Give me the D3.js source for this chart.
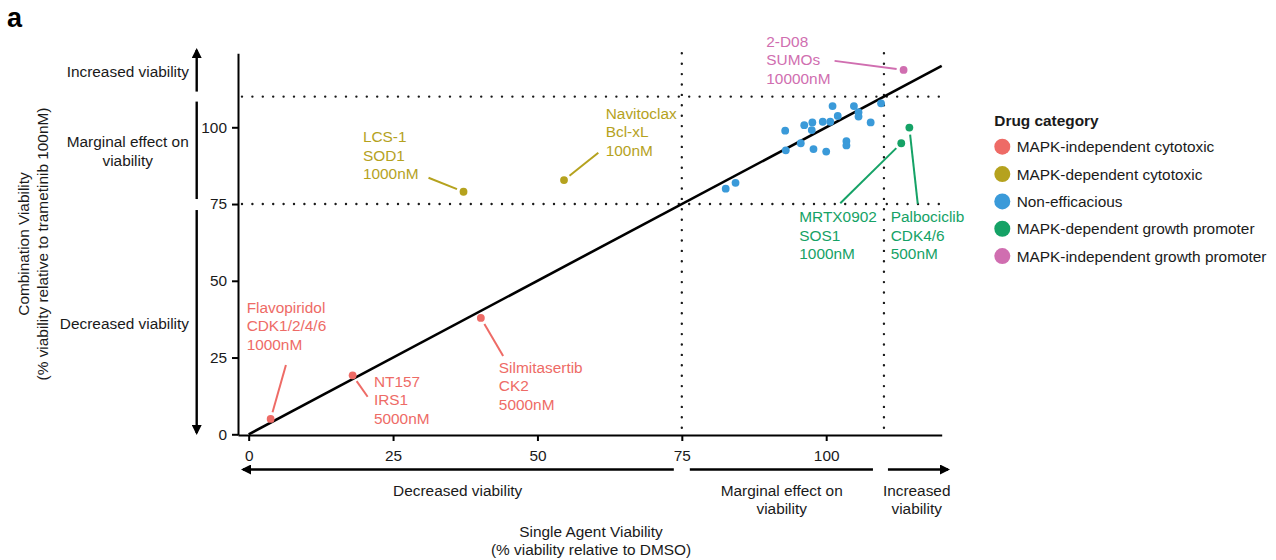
<!DOCTYPE html>
<html><head><meta charset="utf-8">
<script src="https://cdn.jsdelivr.net/npm/d3@7"></script>
<style>
html,body{margin:0;padding:0;background:#fff;}
svg text{font-family:"Liberation Sans",Arial,sans-serif;}
</style></head>
<body><svg id="c" width="1276" height="560"></svg>
<script>
// ---- data ----
const categories = ["MAPK-independent cytotoxic","MAPK-dependent cytotoxic","Non-efficacious","MAPK-dependent growth promoter","MAPK-independent growth promoter"];
const categoryColors = ["#EE6B66","#B5A21E","#3A9AD9","#15A266","#D06EB0"];

// labelled drugs
const drugNames   = ["Flavopiridol","NT157","Silmitasertib","LCS-1","Navitoclax","2-D08","MRTX0902","Palbociclib"];
const drugTargets = ["CDK1/2/4/6","IRS1","CK2","SOD1","Bcl-xL","SUMOs","SOS1","CDK4/6"];
const drugDoses   = ["1000nM","5000nM","5000nM","1000nM","100nM","10000nM","1000nM","500nM"];
const drugCategory= [0,0,0,1,1,4,3,3];
const drugSingle  = [3.8,18.0,40.2,37.2,54.6,113.4,113.0,114.4];
const drugCombo   = [5.0,19.2,37.9,79.0,82.8,118.7,94.8,99.9];

// non-efficacious drugs (unlabelled)
const nonEffSingle = [101.1,104.8,109.5,105.6,105.6,102.0,99.4,100.7,97.6,96.2,97.5,107.7,92.9,95.6,103.5,103.5,93.0,97.8,100.0,82.6,84.3];
const nonEffCombo  = [106.9,106.9,107.8,104.9,103.5,103.7,101.8,101.8,101.6,100.7,99.1,101.6,98.9,94.8,95.5,94.1,92.5,92.9,92.1,80.0,81.9];

const xTicks = [0,25,50,75,100];
const yTicks = [0,25,50,75,100];
const thresholds = [75,110];

// ---- layout (label placement offsets in px, like ggrepel) ----
const labelLayout = [
  [-24,-111.7, 15.3,-54],
  [21.3,5.7, 15,21.4],
  [18,49.3, 22.3,38],
  [-100.6,-55, -35,-14],
  [41.7,-66.7, 34.3,-27.3],
  [-137.3,-28.5, -69,-9],
  [-102,73.4, -61,60],
  [-18.6,89, 8.4,76.3]
];

const svg = d3.select("#c");
const FS = 15.4;
const x = d3.scaleLinear().domain([-1.85,120]).range([238,941.7]);
const y = d3.scaleLinear().domain([-0.23,124.1]).range([435,53.3]);
const ink = "#1a1a1a";

svg.append("text").attr("x",7).attr("y",27).attr("font-size",27).attr("font-weight","bold").attr("fill","#000").text("a");

// dotted threshold lines
const dot = g => g.attr("stroke",ink).attr("stroke-width",2.4).attr("stroke-linecap","round").attr("stroke-dasharray","0,10.4").attr("fill","none");
thresholds.forEach(t=>{
  svg.append("line").attr("x1",x(-1.85)+4).attr("x2",x(120)).attr("y1",y(t)).attr("y2",y(t)).call(dot);
  svg.append("line").attr("x1",x(t)).attr("x2",x(t)).attr("y1",y(124.1)).attr("y2",y(-0.23)-4).call(dot);
});

// identity line
svg.append("line").attr("x1",x(0)).attr("y1",y(0)).attr("x2",x(120)).attr("y2",y(120))
  .attr("stroke","#000").attr("stroke-width",2.6);

// axes
const xa = svg.append("g").attr("transform","translate(0,435)")
  .call(d3.axisBottom(x).tickValues(xTicks).tickSize(6).tickPadding(9).tickSizeOuter(0));
const ya = svg.append("g").attr("transform","translate(238,0)")
  .call(d3.axisLeft(y).tickValues(yTicks).tickSize(6).tickPadding(5).tickSizeOuter(0));
[xa,ya].forEach(a=>{
  a.select(".domain").attr("stroke","#000").attr("stroke-width",2);
  a.selectAll(".tick line").attr("stroke","#000").attr("stroke-width",2);
  a.selectAll(".tick text").attr("font-size",FS).attr("fill",ink).attr("font-family","Liberation Sans,Arial,sans-serif");
});

// non-efficacious points
svg.append("g").selectAll("circle").data(nonEffSingle).join("circle")
  .attr("cx",(d,i)=>x(d)).attr("cy",(d,i)=>y(nonEffCombo[i])).attr("r",3.9)
  .attr("fill",categoryColors[2]);

// labelled drugs
drugNames.forEach((nm,i)=>{
  const px = x(drugSingle[i]), py = y(drugCombo[i]);
  const col = categoryColors[drugCategory[i]];
  const L = labelLayout[i];
  const sx = px+L[2], sy = py+L[3];
  const len = Math.hypot(L[2],L[3]);
  const st = 7/len;
  svg.append("line").attr("x1",px+L[2]*st).attr("y1",py+L[3]*st).attr("x2",sx).attr("y2",sy)
    .attr("stroke",col).attr("stroke-width",2);
  svg.append("circle").attr("cx",px).attr("cy",py).attr("r",3.9).attr("fill",col);
  [nm,drugTargets[i],drugDoses[i]].forEach((t,k)=>{
    svg.append("text").attr("x",px+L[0]).attr("y",py+L[1]+k*18.5).attr("dominant-baseline","central")
      .attr("font-size",FS).attr("fill",col).text(t);
  });
});

// arrows
const defs = svg.append("defs");
defs.append("marker").attr("id","ah").attr("viewBox","0 0 10 10").attr("refX",8).attr("refY",5)
  .attr("markerWidth",6).attr("markerHeight",6).attr("markerUnits","userSpaceOnUse").attr("orient","auto")
  .append("path").attr("d","M0,0 L10,5 L0,10 Z").attr("fill","#000");
function seg(x1,y1,x2,y2,arrow){
  const l = svg.append("line").attr("x1",x1).attr("y1",y1).attr("x2",x2).attr("y2",y2)
    .attr("stroke","#000").attr("stroke-width",2.4);
  if(arrow) l.attr("marker-end","url(#ah)").attr("stroke-width",2.4);
  return l;
}
function mk(){}
// bigger arrowheads
defs.select("#ah").attr("markerWidth",11).attr("markerHeight",10);

// y-side arrows
const ax = 196.7;
seg(ax,y(110)-5,ax,50,true);
seg(ax,y(110)+5,ax,y(75)-5,false);
seg(ax,y(75)+6,ax,433,true);
// x-side arrows
const ay = 469.5;
seg(x(75)-8,ay,243,ay,true);
seg(x(75)+8,ay,x(110)-11,ay,false);
seg(x(110)+4,ay,948,ay,true);

function txt(xp,yp,t,anchor,extra){
  const e = svg.append("text").attr("x",xp).attr("y",yp).attr("dominant-baseline","central")
    .attr("text-anchor",anchor).attr("font-size",FS).attr("fill",ink).text(t);
  return e;
}
// y-side labels
txt(189,71.7,"Increased viability","end");
txt(127.7,141.7,"Marginal effect on","middle");
txt(127.7,160.2,"viability","middle");
txt(189,323,"Decreased viability","end");
// x-side labels
txt(457.7,490,"Decreased viability","middle");
txt(781.7,490,"Marginal effect on","middle");
txt(781.7,508.5,"viability","middle");
txt(916.7,490,"Increased","middle");
txt(916.7,508.5,"viability","middle");

// axis titles
txt(591,531.5,"Single Agent Viability","middle");
txt(591,549.5,"(% viability relative to DMSO)","middle");
const yt = svg.append("g").attr("transform","translate(23,244) rotate(-90)");
yt.append("text").attr("x",0).attr("y",0).attr("dominant-baseline","central").attr("text-anchor","middle")
  .attr("font-size",FS).attr("fill",ink).text("Combination Viability");
yt.append("text").attr("x",0).attr("y",19).attr("dominant-baseline","central").attr("text-anchor","middle")
  .attr("font-size",FS).attr("fill",ink).text("(% viability relative to trametinib 100nM)");

// legend
const lg = svg.append("g");
lg.append("text").attr("x",994.3).attr("y",120.7).attr("dominant-baseline","central")
  .attr("font-size",FS).attr("font-weight","bold").attr("fill",ink).text("Drug category");
categories.forEach((c,i)=>{
  const cy = 146.7 + i*27.35;
  lg.append("circle").attr("cx",1002.3).attr("cy",cy).attr("r",8).attr("fill",categoryColors[i]);
  lg.append("text").attr("x",1016.7).attr("y",cy).attr("dominant-baseline","central")
    .attr("font-size",FS).attr("fill",ink).text(c);
});
</script></body></html>
